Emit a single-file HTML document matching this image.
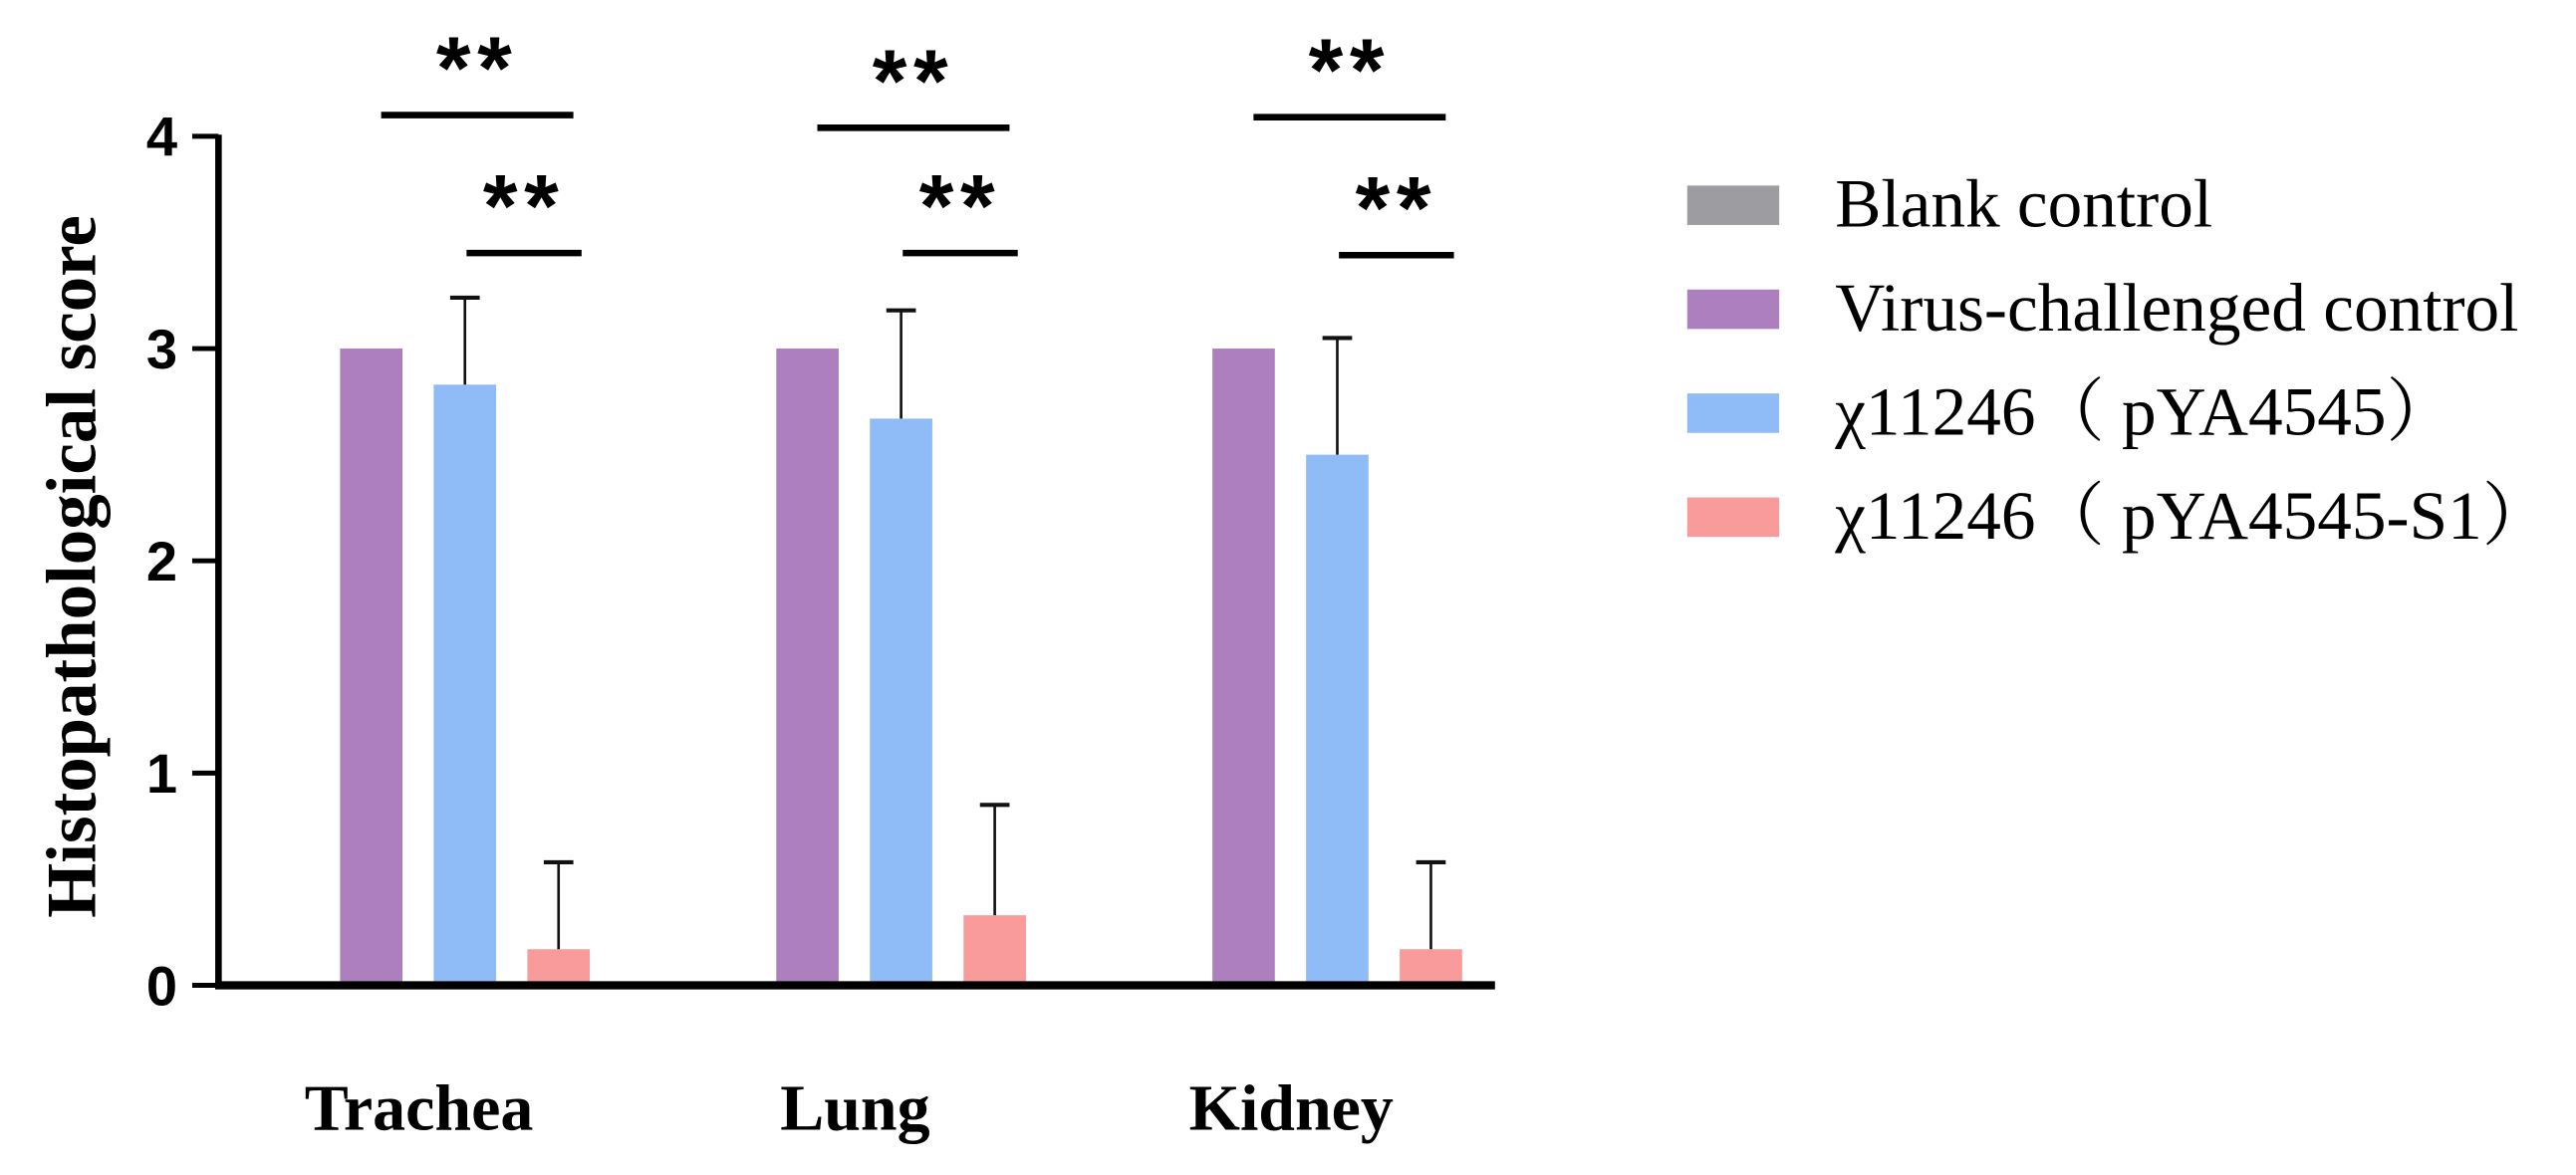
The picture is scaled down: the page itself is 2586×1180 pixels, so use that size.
<!DOCTYPE html>
<html><head><meta charset="utf-8"><style>html,body{margin:0;padding:0;background:#fff}svg{display:block}</style></head>
<body>
<svg id="chart" width="2586" height="1180" viewBox="0 0 1568 715.5" preserveAspectRatio="none" xmlns="http://www.w3.org/2000/svg">
<rect width="1568" height="715.5" fill="#fff"/>
<g id="plot"></g>
</svg>
<script>
const categories = ["Trachea", "Lung", "Kidney"];
const seriesNames = ["Blank control", "Virus-challenged control", "χ11246（ pYA4545）", "χ11246（ pYA4545-S1）"];
const blankValues = [0, 0, 0];
const virusValues = [3, 3, 3];
const pyaValues = [2.83, 2.67, 2.5];
const pyaErrors = [0.41, 0.51, 0.55];
const s1Values = [0.17, 0.33, 0.17];
const s1Errors = [0.41, 0.52, 0.41];
const yTicks = [0, 1, 2, 3, 4];
const brackets = [
  {cat: 0, from: 1, to: 3, level: 4.1},
  {cat: 0, from: 2, to: 3, level: 3.45},
  {cat: 1, from: 1, to: 3, level: 4.04},
  {cat: 1, from: 2, to: 3, level: 3.45},
  {cat: 2, from: 1, to: 3, level: 4.09},
  {cat: 2, from: 2, to: 3, level: 3.44}
];
const colors = ["#9d9da1", "#ae7fbe", "#8fbcf6", "#f89b9a"];

const NS = "http://www.w3.org/2000/svg";
const g = document.getElementById("plot");
const X0 = 133, X1 = 910, Y0 = 600, Y4 = 83;
function y(v){ return Y0 - (v/4)*(Y0-Y4); }
function groupStart(i){ return 150 + i*265.5; }
function barX(i, s){ return groupStart(i) + s*57; }
const BW = 38;
function el(tag, attrs, text){
  const e = document.createElementNS(NS, tag);
  for (const k in attrs) e.setAttribute(k, attrs[k]);
  if (text !== undefined) e.textContent = text;
  g.appendChild(e);
  return e;
}
const series = [blankValues, virusValues, pyaValues, s1Values];
const errs = [null, null, pyaErrors, s1Errors];
series.forEach((vals, s) => {
  vals.forEach((v, i) => {
    if (v <= 0) return;
    const r = el("rect", {x: barX(i, s), y: y(v), width: BW, height: Y0 - y(v), fill: colors[s]});
    
    
    if (errs[s]) {
      const cx = barX(i, s) + BW/2;
      const top = y(v + errs[s][i]);
      const l = el("line", {x1: cx, x2: cx, y1: y(v), y2: top, stroke: "#111", "stroke-width": 1.6});
      
      
      const c = el("line", {x1: cx-9, x2: cx+9, y1: top, y2: top, stroke: "#111", "stroke-width": 2.5});
      
      
    }
  });
});
let ax = el("line", {x1: X0, x2: X0, y1: Y4-1, y2: Y0+2, stroke: "#000", "stroke-width": 4});


ax = el("line", {x1: X0-2, x2: X1, y1: Y0, y2: Y0, stroke: "#000", "stroke-width": 5});


yTicks.forEach(t => {
  const tk = el("line", {x1: 117, x2: X0, y1: y(t), y2: y(t), stroke: "#000", "stroke-width": 3});
  
  
  const lb = el("text", {x: 108, y: y(t) + 12, "text-anchor": "end", "font-family": "Liberation Sans, sans-serif", "font-weight": "bold", "font-size": 34}, String(t));
  
  
});
categories.forEach((c, i) => {
  const cx = groupStart(i) + 105;
  const lb = el("text", {x: cx, y: 688, "text-anchor": "middle", "font-family": "Liberation Serif, serif", "font-weight": "bold", "font-size": 40}, c);
  
  
});
const yt = el("text", {x: 0, y: 0, transform: "translate(58,345) rotate(-90)", "text-anchor": "middle", "font-family": "Liberation Serif, serif", "font-weight": "bold", "font-size": 43}, "Histopathological score");


brackets.forEach(b => {
  const long = b.to - b.from > 1;
  const xa = long ? barX(b.cat, b.from) + 25 : barX(b.cat, b.from) + 20;
  const xb = long ? barX(b.cat, b.to) + 28 : barX(b.cat, b.to) + 33;
  const yy = y(b.level);
  const l = el("line", {x1: xa, x2: xb, y1: yy, y2: yy, stroke: "#000", "stroke-width": 4});
  
  
  const s = el("text", {x: (xa+xb)/2, y: yy - 10, "text-anchor": "middle", "letter-spacing": "4", "font-family": "Liberation Sans, sans-serif", "font-weight": "bold", "font-size": 54}, "**");
  
  
});
seriesNames.forEach((n, k) => {
  const cy = 124 + k*63.3;
  const sw = el("rect", {x: 1027, y: cy - 11, width: 56, height: 24, fill: colors[k]});
  
  
  const t = el("text", {x: 1117, y: cy + 14, "font-family": "Liberation Serif, 'Noto Serif CJK SC', serif", "font-size": 42}, n);
  
  
});
</script>
</body></html>
